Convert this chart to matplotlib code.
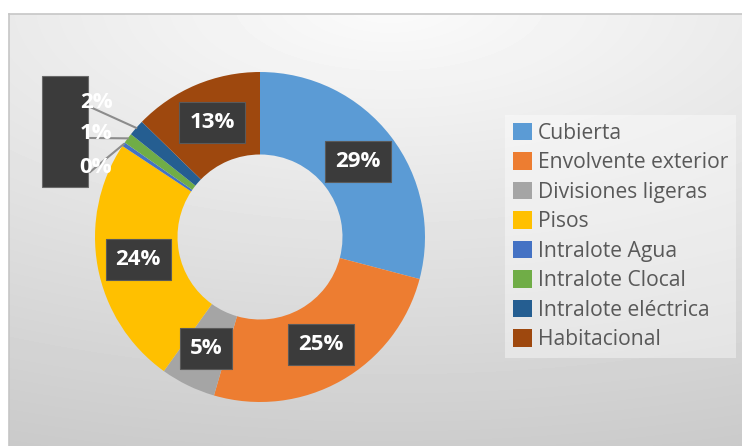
import matplotlib.pyplot as plt
from matplotlib.patches import Patch, Rectangle
import numpy as np

# datos
categorias = ["Cubierta", "Envolvente exterior", "Divisiones ligeras", "Pisos",
              "Intralote Agua", "Intralote Clocal", "Intralote eléctrica", "Habitacional"]
valores = [29.1, 25.4, 5.4, 24.4, 0.4, 1.0, 1.6, 12.7]
colores = ["#5B9BD5", "#ED7D31", "#A5A5A5", "#FFC000",
           "#4472C4", "#70AD47", "#255E91", "#9E480E"]

plt.rcParams['font.family'] = ['Open Sans', 'DejaVu Sans']

W, H = 742, 446
fig = plt.figure(figsize=(W / 100, H / 100), dpi=100)
fig.patch.set_facecolor("white")

# fondo con degradado
bg = fig.add_axes([9 / W, 0, 1 - 9 / W, (H - 14) / H])
yy, xx = np.mgrid[0:432, 0:733]
d = np.sqrt(((xx - 380) * 0.045) ** 2 + ((yy + 10) * 0.105) ** 2)
img = np.clip(251 - d, 0, 255) / 255
bg.imshow(img, cmap="gray", vmin=0, vmax=1, aspect="auto", interpolation="bilinear")
bg.set_xticks([])
bg.set_yticks([])
for s in ["right", "bottom"]:
    bg.spines[s].set_visible(False)
for s in ["top", "left"]:
    bg.spines[s].set_color("#c6c6c6")
    bg.spines[s].set_linewidth(1.2)

# dona
cx, cy, R = 260, 237, 165
ax = fig.add_axes([(cx - R) / W, (H - cy - R) / H, 2 * R / W, 2 * R / H])
ax.set_facecolor("none")
wedges, _ = ax.pie(valores, colors=colores, startangle=90, counterclock=False,
                   radius=1, wedgeprops=dict(width=0.5, linewidth=0))
ax.set_xlim(-1, 1)
ax.set_ylim(-1, 1)
ax.set_aspect("equal")
ax.axis("off")

# caja oscura detras de las etiquetas pequenas
ax.add_patch(Rectangle((42 / W, (H - 187) / H), 46 / W, 111 / H,
                       transform=fig.transFigure, facecolor="#3b3b3b",
                       edgecolor="#6a6a6a", linewidth=0.8, zorder=1, clip_on=False))

box = dict(boxstyle="square,pad=0.45", facecolor="#3b3b3b", edgecolor="#5a5a5a", linewidth=0.8)
total = sum(valores)
chicos_y = {"Intralote eléctrica": 0.818, "Intralote Clocal": 0.630, "Intralote Agua": 0.424}
for w, v, nombre in zip(wedges, valores, categorias):
    ang = np.deg2rad((w.theta1 + w.theta2) / 2)
    txt = f"{round(v / total * 100):.0f}%"
    if v >= 3:
        ax.text(0.75 * np.cos(ang), 0.75 * np.sin(ang), txt, ha="center", va="center",
                fontsize=16, fontweight="bold", color="white", bbox=box, zorder=5)
    else:
        ty = chicos_y[nombre]
        ax.plot([-1.03, np.cos(ang)], [ty - 0.03, np.sin(ang)], color="#8c8c8c",
                lw=1.5, zorder=3, clip_on=False)
        ax.text(-0.994, ty, txt, ha="center", va="center", fontsize=16,
                fontweight="bold", color="white", zorder=6, clip_on=False)

# leyenda
handles = [Patch(facecolor=c, edgecolor="none") for c in colores]
leg = fig.legend(handles, categorias, loc="upper left", bbox_to_anchor=(505 / W, (H - 115) / H),
                 fontsize=15.2, frameon=True, handlelength=0.9, handleheight=0.9,
                 handletextpad=0.3, labelspacing=0.4, borderpad=0.36, borderaxespad=0)
leg.get_frame().set_facecolor("white")
leg.get_frame().set_alpha(0.4)
leg.get_frame().set_edgecolor("none")
leg.get_frame().set_boxstyle("square", pad=0)
for t in leg.get_texts():
    t.set_color("#595959")

fig.savefig("out.png", dpi=100)
